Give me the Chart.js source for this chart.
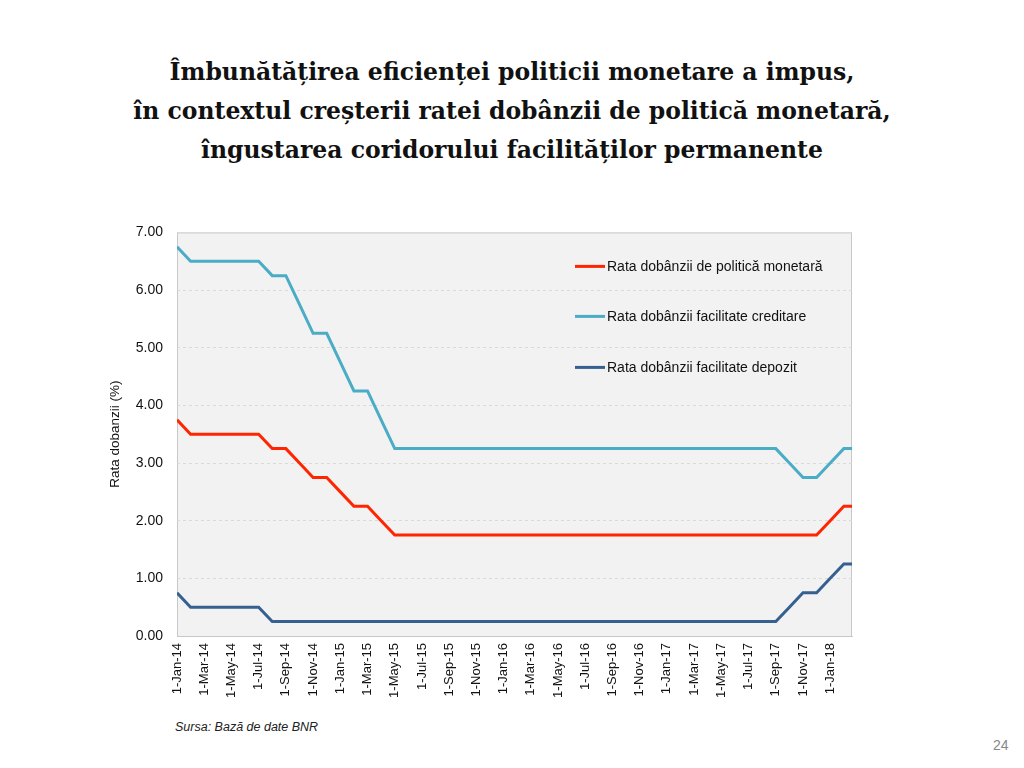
<!DOCTYPE html>
<html>
<head>
<meta charset="utf-8">
<script src="https://cdn.jsdelivr.net/npm/chart.js@4"></script>
<style>
  body { margin: 0; width: 1024px; height: 768px; background: #fff; position: relative; overflow: hidden; font-family: "Liberation Sans", sans-serif; }
  #title { position: absolute; top: 53px; left: 0; width: 1024px; text-align: center; font-family: "DejaVu Serif", serif; font-weight: bold; font-size: 23.5px; line-height: 39px; color: #111; }
  #wrap { position: absolute; left: 90px; top: 210px; }
  #source { position: absolute; left: 175px; top: 720px; font-style: italic; font-size: 12.5px; color: #222; }
  #page { position: absolute; left: 993px; top: 737px; font-size: 14px; color: #888; }
</style>
</head>
<body>
<div id="title">Îmbunătățirea eficienței politicii monetare a impus,<br>în contextul creșterii ratei dobânzii de politică monetară,<br>îngustarea coridorului facilităților permanente</div>
<div id="wrap"><canvas id="myChart" width="800" height="510"></canvas></div>
<div id="source">Sursa: Bază de date BNR</div>
<div id="page">24</div>
<script>
// months, one point per month (Jan-14 .. Mar-18)
const months = [
  '1-Jan-14','1-Feb-14','1-Mar-14','1-Apr-14','1-May-14','1-Jun-14','1-Jul-14','1-Aug-14','1-Sep-14','1-Oct-14','1-Nov-14','1-Dec-14',
  '1-Jan-15','1-Feb-15','1-Mar-15','1-Apr-15','1-May-15','1-Jun-15','1-Jul-15','1-Aug-15','1-Sep-15','1-Oct-15','1-Nov-15','1-Dec-15',
  '1-Jan-16','1-Feb-16','1-Mar-16','1-Apr-16','1-May-16','1-Jun-16','1-Jul-16','1-Aug-16','1-Sep-16','1-Oct-16','1-Nov-16','1-Dec-16',
  '1-Jan-17','1-Feb-17','1-Mar-17','1-Apr-17','1-May-17','1-Jun-17','1-Jul-17','1-Aug-17','1-Sep-17','1-Oct-17','1-Nov-17','1-Dec-17',
  '1-Jan-18','1-Feb-18','1-Mar-18'
];

const policyRate = [
  3.75,3.50,3.50,3.50,3.50,3.50,3.50,3.25,3.25,3.00,2.75,2.75,
  2.50,2.25,2.25,2.00,1.75,1.75,1.75,1.75,1.75,1.75,1.75,1.75,
  1.75,1.75,1.75,1.75,1.75,1.75,1.75,1.75,1.75,1.75,1.75,1.75,
  1.75,1.75,1.75,1.75,1.75,1.75,1.75,1.75,1.75,1.75,1.75,1.75,
  2.00,2.25,2.25
];
const creditRate = [
  6.75,6.50,6.50,6.50,6.50,6.50,6.50,6.25,6.25,5.75,5.25,5.25,
  4.75,4.25,4.25,3.75,3.25,3.25,3.25,3.25,3.25,3.25,3.25,3.25,
  3.25,3.25,3.25,3.25,3.25,3.25,3.25,3.25,3.25,3.25,3.25,3.25,
  3.25,3.25,3.25,3.25,3.25,3.25,3.25,3.25,3.25,3.00,2.75,2.75,
  3.00,3.25,3.25
];
const depositRate = [
  0.75,0.50,0.50,0.50,0.50,0.50,0.50,0.25,0.25,0.25,0.25,0.25,
  0.25,0.25,0.25,0.25,0.25,0.25,0.25,0.25,0.25,0.25,0.25,0.25,
  0.25,0.25,0.25,0.25,0.25,0.25,0.25,0.25,0.25,0.25,0.25,0.25,
  0.25,0.25,0.25,0.25,0.25,0.25,0.25,0.25,0.25,0.50,0.75,0.75,
  1.00,1.25,1.25
];

const seriesNames = [
  'Rata dobânzii de politică monetară',
  'Rata dobânzii facilitate creditare',
  'Rata dobânzii facilitate depozit'
];
const yTicks = [0,1,2,3,4,5,6,7];

function toPoints(arr) {
  return arr.map((v, i) => ({ x: i, y: v }));
}

// background of plot area + legend drawn inside the plot
const plotBg = {
  id: 'plotBg',
  beforeDraw(chart) {
    const a = chart.chartArea, c = chart.ctx;
    c.save();
    c.fillStyle = '#f2f2f2';
    c.fillRect(a.left, a.top, a.right - a.left, a.bottom - a.top);
    c.strokeStyle = '#c8c8c8';
    c.lineWidth = 1;
    c.strokeRect(a.left + 0.5, a.top + 0.5, a.right - a.left - 1, a.bottom - a.top);
    c.restore();
  },
  afterDatasetsDraw(chart) {
    const a = chart.chartArea, c = chart.ctx;
    const rows = [34, 84, 135];
    c.save();
    c.font = '14px "Liberation Sans", sans-serif';
    c.textBaseline = 'middle';
    chart.data.datasets.forEach((ds, i) => {
      const y = a.top + rows[i];
      const x = a.left + 398;
      c.strokeStyle = ds.borderColor;
      c.lineWidth = 3;
      c.beginPath();
      c.moveTo(x, y);
      c.lineTo(x + 30, y);
      c.stroke();
      c.fillStyle = '#111';
      c.fillText(ds.label, x + 32, y + 1);
    });
    c.restore();
  }
};

const ctx = document.getElementById('myChart').getContext('2d');
const chart = new Chart(ctx, {
  type: 'line',
  data: {
    datasets: [
      { label: seriesNames[0], data: toPoints(policyRate), borderColor: '#ff2500', borderWidth: 3, pointRadius: 0, fill: false, tension: 0 },
      { label: seriesNames[1], data: toPoints(creditRate), borderColor: '#4bacc6', borderWidth: 3, pointRadius: 0, fill: false, tension: 0 },
      { label: seriesNames[2], data: toPoints(depositRate), borderColor: '#35608f', borderWidth: 3, pointRadius: 0, fill: false, tension: 0 }
    ]
  },
  options: {
    responsive: false,
    animation: false,
    layout: { padding: { top: 8, right: 38, left: 0, bottom: 0 } },
    plugins: {
      legend: { display: false },
      tooltip: { enabled: false }
    },
    scales: {
      x: {
        type: 'linear',
        min: 0,
        max: 49.6,
        afterFit: s => { s.height = 84; },
        afterBuildTicks: s => { s.ticks = s.ticks.filter(t => Number.isInteger(t.value) && t.value % 2 === 0); },
        grid: { display: false, drawTicks: false },
        border: { color: '#c8c8c8' },
        ticks: {
          stepSize: 2,
          autoSkip: false,
          minRotation: 90,
          maxRotation: 90,
          padding: 7,
          color: '#111',
          font: { size: 13, family: '"Liberation Sans", sans-serif' },
          callback: v => months[v] || ''
        }
      },
      y: {
        min: 0,
        max: 7,
        afterFit: s => { s.width = 87; },
        afterBuildTicks: s => { s.ticks = yTicks.map(v => ({ value: v })); },
        grid: { color: '#d9d9d9', drawTicks: false },
        border: { display: false, dash: [3, 3] },
        ticks: {
          padding: 14,
          color: '#111',
          font: { size: 14, family: '"Liberation Sans", sans-serif' },
          callback: v => v.toFixed(2)
        },
        title: {
          display: true,
          text: 'Rata dobanzii (%)',
          color: '#111',
          font: { size: 13.5, family: '"Liberation Sans", sans-serif' },
          padding: { top: 17, bottom: 0 }
        }
      }
    }
  },
  plugins: [plotBg]
});
</script>
</body>
</html>
